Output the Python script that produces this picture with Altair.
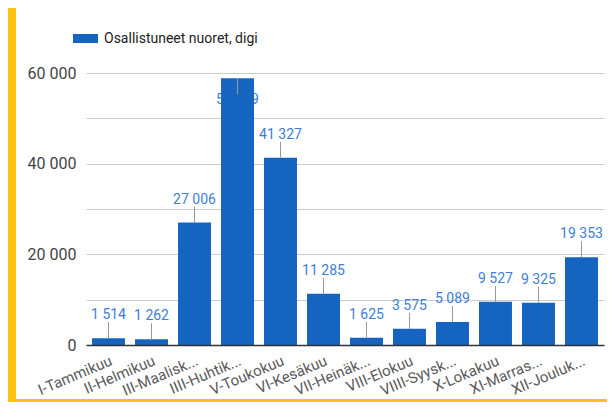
import altair as alt
import pandas as pd

months = ["I-Tammikuu", "II-Helmikuu", "III-Maalisk...", "IIII-Huhtik...", "V-Toukokuu",
          "VI-Kesäkuu", "VII-Heinäk...", "VIII-Elokuu", "VIIII-Syysk...", "X-Lokakuu",
          "XI-Marras...", "XII-Jouluk..."]
values = [1514, 1262, 27006, 58829, 41327, 11285, 1625, 3575, 5089, 9527, 9325, 19353]
series_name = "Osallistuneet nuoret, digi"
y_ticks = [0, 10000, 20000, 30000, 40000, 50000, 60000]

df = pd.DataFrame({"kk": months, "v": values, "s": series_name})

W, H = 518, 272
PAD_L, PAD_T, PAD_R, PAD_B = 78, 65, 3, 57
FONT = "Roboto"
BAR = "#1565C0"
LBL = "#3d7ed6"
YELLOW = "#FFC20E"

xscale = alt.Scale(paddingInner=0.233, paddingOuter=0.14)
x_ax = alt.Axis(labelAngle=-23, labelFontSize=15, labelColor="#5a5a5a",
                labelFont=FONT, domainColor="#333", domainWidth=1.5,
                ticks=False, labelPadding=8, grid=False, zindex=1)
x_enc = alt.X("kk:N", sort=months, title=None, scale=xscale, axis=x_ax)
yscale = alt.Scale(domain=[0, 60000], nice=False)
y_ax = alt.Axis(values=y_ticks,
                labelExpr="datum.value % 20000 == 0 ? replace(format(datum.value, ','), ',', ' ') : ''",
                labelFontSize=16, labelColor="#444", labelFont=FONT,
                gridColor="#cccccc", domain=False, ticks=False, labelPadding=10)
y_enc = alt.Y("v:Q", title=None, scale=yscale, axis=y_ax)

base = alt.Chart(df).transform_calculate(
    lbl="replace(format(datum.v, ','), ',', ' ')"
)

one = pd.DataFrame({"a": [0]})
frame_left = alt.Chart(one).mark_rect(color=YELLOW).encode(
    x=alt.value(-PAD_L), x2=alt.value(-PAD_L + 8),
    y=alt.value(-PAD_T), y2=alt.value(H + PAD_B)
)
frame_bottom = alt.Chart(one).mark_rect(color=YELLOW).encode(
    x=alt.value(-PAD_L), x2=alt.value(W + PAD_R),
    y=alt.value(H + PAD_B - 3), y2=alt.value(H + PAD_B)
)

inside_text = base.transform_filter("datum.v > 55000").mark_text(
    baseline="middle", dy=22, fontSize=14, font=FONT, color=LBL
).encode(x=x_enc, y=y_enc, text="lbl:N")

bars = base.mark_bar().encode(
    x=x_enc, y=y_enc,
    color=alt.Color("s:N", scale=alt.Scale(range=[BAR]),
                    legend=alt.Legend(orient="none", legendX=-13, legendY=-47, title=None,
                                      symbolType="M-1,-0.36H1V0.36H-1Z", symbolSize=625,
                                      symbolStrokeWidth=0, labelFontSize=14, labelColor="#222",
                                      labelFont=FONT, labelOffset=6))
)

rules_up = base.transform_filter("datum.v <= 55000").mark_rule(
    color="#999999", y2Offset=-16, strokeWidth=1
).encode(x=x_enc, y=y_enc, y2=alt.Y2("v:Q"))

rules_down = base.transform_filter("datum.v > 55000").mark_rule(
    color="#999999", y2Offset=16, strokeWidth=1
).encode(x=x_enc, y=y_enc, y2=alt.Y2("v:Q"))

texts = base.transform_filter("datum.v <= 55000").mark_text(
    baseline="alphabetic", dy=-19, fontSize=14, font=FONT, color=LBL
).encode(x=x_enc, y=y_enc, text="lbl:N")

chart = alt.layer(frame_left, frame_bottom, inside_text, bars, rules_up, rules_down, texts).properties(
    width=W, height=H,
    autosize=alt.AutoSizeParams(type="none"),
    padding={"left": PAD_L, "top": PAD_T, "right": PAD_R, "bottom": PAD_B},
).configure(background="white").configure_view(strokeWidth=0)

chart.save("out.html", embed_options={"renderer": "svg", "actions": False})
